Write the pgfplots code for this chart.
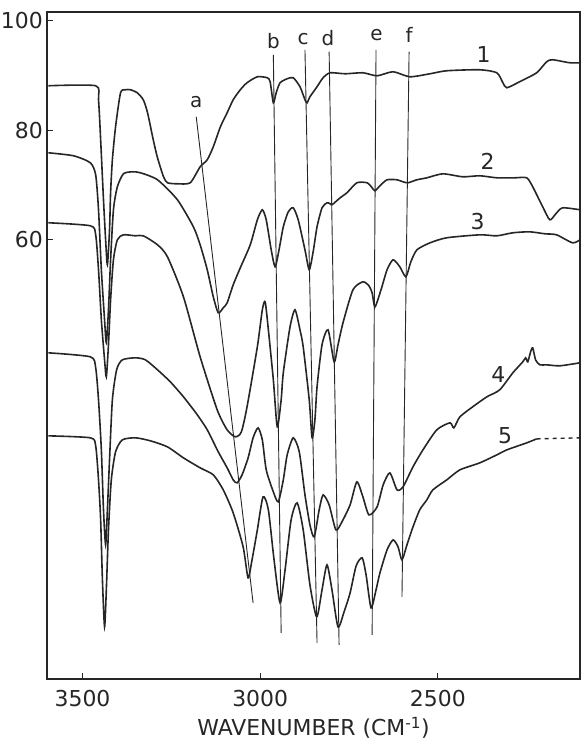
\documentclass[border=0pt]{standalone}
\usepackage{fontspec}
\setmainfont{DejaVu Sans}
\usepackage{pgfplots}
\pgfplotsset{compat=1.18}
\definecolor{ink}{gray}{0.15}
\begin{document}
\begin{tikzpicture}
\useasboundingbox (-47bp,-64bp) rectangle (535bp,679bp);
\begin{axis}[
  at={(0,0)}, anchor=south west,
  scale only axis, width=533bp, height=667bp,
  x dir=reverse, xmin=2100, xmax=3600, ymin=-20.2, ymax=101.6,
  xtick={2500,3000,3500}, ytick={60,80,100},
  tick pos=left,
  tick align=inside, major tick length=6bp,
  axis line style={ink, line width=1.4bp},
  every tick/.style={ink, line width=1.2bp},
  ticklabel style={font=\fontsize{22}{26}\selectfont, text=ink},
  xticklabel style={inner sep=0pt, anchor=north, yshift=-11bp},
  yticklabel style={inner sep=0pt, anchor=east, xshift=-4bp},
  /pgf/number format/assume math mode=true,
  /pgf/number format/set thousands separator={},
  xlabel={WAVENUMBER (CM\textsuperscript{-1})},
  xlabel style={font=\fontsize{22}{26}\selectfont, text=ink, at={(axis description cs:0.5,0)}, anchor=center, yshift=-49bp},
  clip=true,
  no markers,
]
% curve 1
\addplot[ink, line width=1.6bp, smooth, tension=0.4] coordinates {
(3596,88.13)(3463,88.13)(3455,85.57)(3449,78.27)(3441,67.31)(3435,60.0)(3430,55.44)(3424,61.83)(3421,68.58)(3416,74.61)(3407,80.64)(3393,86.85)(3379,87.4)(3365,87.4)(3346,86.85)(3329,85.57)(3317,83.2)(3301,78.27)(3289,74.98)(3272,71.51)(3261,70.41)(3233,70.23)(3197,70.41)(3169,73.33)(3149,74.61)(3132,76.99)(3112,80.64)(3093,83.2)(3076,85.57)(3056,87.4)(3037,88.68)(3008,89.77)(2980,89.59)(2972,88.86)(2963,85.02)(2955,86.85)(2944,88.68)(2924,89.41)(2907,89.59)(2888,87.95)(2874,85.57)(2868,85.02)(2860,86.12)(2840,87.95)(2823,89.59)(2803,90.5)(2761,90.32)(2711,90.5)(2671,89.95)(2626,90.69)(2579,89.77)(2522,90.32)(2475,90.87)(2382,91.05)(2334,90.5)(2317,88.68)(2306,87.76)(2270,88.86)(2222,90.5)(2194,92.51)(2177,92.88)(2129,92.33)(2100,92.33)
};
% curve 2
\addplot[ink, line width=1.6bp, smooth, tension=0.4] coordinates {
(3596,75.89)(3525,75.34)(3478,74.06)(3463,71.87)(3455,65.48)(3447,54.52)(3438,45.39)(3433,41.19)(3427,47.22)(3421,56.35)(3413,65.48)(3402,69.68)(3385,72.05)(3360,72.42)(3337,72.24)(3289,70.96)(3233,67.31)(3188,62.37)(3169,59.09)(3149,54.52)(3132,49.59)(3118,46.67)(3104,47.58)(3093,48.49)(3076,51.78)(3056,54.89)(3028,59.09)(3008,63.65)(2994,65.48)(2983,63.65)(2969,58.17)(2958,55.07)(2947,58.17)(2935,62.37)(2921,65.11)(2907,65.84)(2893,63.65)(2874,58.17)(2862,54.52)(2851,57.81)(2840,62.37)(2826,65.84)(2812,66.76)(2803,66.58)(2798,66.39)(2775,67.67)(2756,68.58)(2728,70.41)(2699,70.41)(2685,69.5)(2677,68.95)(2663,69.86)(2643,70.96)(2615,70.96)(2598,70.59)(2584,70.41)(2559,70.96)(2531,71.32)(2486,72.05)(2430,71.51)(2382,71.69)(2334,71.32)(2284,71.32)(2250,71.32)(2233,69.68)(2205,66.03)(2185,63.65)(2168,64.75)(2149,65.84)(2100,65.48)
};
% curve 3
\addplot[ink, line width=1.6bp, smooth, tension=0.4] coordinates {
(3596,63.11)(3478,62.56)(3463,60.91)(3455,54.52)(3447,45.39)(3438,38.08)(3433,34.98)(3427,40.82)(3421,49.04)(3413,56.35)(3402,60.0)(3385,60.91)(3351,60.73)(3329,60.73)(3289,59.09)(3261,56.9)(3216,49.59)(3169,38.63)(3121,28.95)(3093,25.3)(3070,24.02)(3053,24.93)(3037,29.5)(3008,40.46)(2994,47.22)(2986,48.67)(2977,43.56)(2963,34.43)(2952,25.85)(2941,30.78)(2935,35.71)(2916,44.11)(2902,47.22)(2888,43.56)(2879,40.46)(2862,30.78)(2854,23.84)(2846,27.12)(2840,33.15)(2826,40.82)(2809,43.56)(2792,37.72)(2781,40.82)(2767,44.84)(2739,50.87)(2711,52.33)(2694,51.6)(2685,50.32)(2677,47.76)(2660,50.87)(2643,54.52)(2626,56.35)(2607,55.07)(2590,53.24)(2576,55.98)(2559,58.17)(2522,59.45)(2475,60.37)(2382,60.91)(2334,60.73)(2289,61.28)(2242,61.46)(2199,61.1)(2166,60.91)(2121,59.45)(2100,60.0)
};
% curve 4
\addplot[ink, line width=1.6bp, smooth, tension=0.4] coordinates {
(3596,39.36)(3478,38.63)(3463,36.62)(3455,30.78)(3447,21.64)(3441,10.69)(3435,4.29)(3430,10.69)(3424,19.82)(3416,30.78)(3404,36.26)(3388,38.08)(3351,38.45)(3323,38.08)(3289,36.26)(3253,34.07)(3216,31.33)(3177,28.04)(3149,25.3)(3118,21.28)(3093,18.36)(3076,16.16)(3065,15.62)(3051,17.08)(3034,20.18)(3020,23.84)(3006,25.66)(2994,23.47)(2983,17.99)(2963,13.97)(2949,12.15)(2935,16.16)(2924,20.73)(2907,23.84)(2890,21.28)(2874,13.42)(2860,7.94)(2848,5.75)(2834,10.69)(2823,13.42)(2806,11.6)(2787,7.03)(2770,8.49)(2747,11.6)(2728,15.8)(2711,13.06)(2694,9.77)(2671,11.23)(2654,15.25)(2635,17.44)(2615,14.34)(2598,14.89)(2570,18.54)(2542,21.64)(2503,25.3)(2466,26.58)(2455,25.66)(2438,27.67)(2402,29.5)(2362,31.33)(2326,32.6)(2289,35.71)(2261,37.72)(2253,38.45)(2247,37.72)(2239,39.54)(2233,40.27)(2225,38.08)(2213,37.17)(2194,37.17)(2157,36.99)(2100,37.54)
};
% curve 5
\addplot[ink, line width=1.6bp, smooth, tension=0.4] coordinates {
(3596,24.2)(3478,23.84)(3463,22.37)(3455,16.16)(3449,8.86)(3444,-2.1)(3438,-10.69)(3433,-3.93)(3427,7.03)(3419,16.16)(3407,21.28)(3388,23.47)(3351,23.84)(3309,23.29)(3261,22.19)(3216,20.18)(3169,18.36)(3132,17.08)(3104,14.34)(3076,10.14)(3048,3.93)(3034,-1.74)(3023,1.55)(3008,7.03)(2992,13.06)(2977,10.69)(2961,1.55)(2944,-6.31)(2930,-0.27)(2913,8.86)(2896,11.96)(2879,7.03)(2860,-3.02)(2841,-8.86)(2826,-3.93)(2812,0.64)(2798,-3.93)(2781,-10.69)(2764,-7.95)(2747,-4.48)(2730,0.46)(2713,1.92)(2702,-1.19)(2688,-7.21)(2674,-3.93)(2663,-0.82)(2643,3.38)(2626,5.2)(2612,3.93)(2601,1.55)(2587,4.29)(2570,7.58)(2551,10.69)(2531,12.51)(2514,14.34)(2475,16.16)(2438,17.99)(2382,19.27)(2334,20.73)(2306,21.64)(2250,22.92)(2222,23.65)
};
\addplot[ink, line width=1.4bp, dash pattern=on 4bp off 4bp] coordinates {(2222,23.65)(2100,23.84)};
% band marker lines a-f
\addplot[ink, line width=0.9bp] coordinates {(3180,82.47)(3020,-6.31)};
\addplot[ink, line width=0.9bp] coordinates {(2963,93.79)(2941,-11.78)};
\addplot[ink, line width=0.9bp] coordinates {(2874,94.7)(2840,-13.61)};
\addplot[ink, line width=0.9bp] coordinates {(2806,94.34)(2778,-13.98)};
\addplot[ink, line width=0.9bp] coordinates {(2674,94.7)(2685,-12.15)};
\addplot[ink, line width=0.9bp] coordinates {(2581,94.34)(2601,-5.21)};
% labels
\begin{scope}[every node/.style={font=\fontsize{20}{23}\selectfont, text=ink, inner sep=0pt}]
\node at (axis cs:3180,85.11) {a};
\node at (axis cs:2963,96.26) {b};
\node at (axis cs:2879,96.7) {c};
\node at (axis cs:2809,96.8) {d};
\node at (axis cs:2673,97.35) {e};
\node at (axis cs:2581,97.35) {f};
\end{scope}
\begin{scope}[every node/.style={font=\fontsize{22}{26}\selectfont, text=ink, inner sep=0pt}]
\node at (axis cs:2371,93.8) {1};
\node at (axis cs:2360,74.33) {2};
\node at (axis cs:2388,63.38) {3};
\node at (axis cs:2330,35.43) {4};
\node at (axis cs:2311,24.29) {5};
\end{scope}
\end{axis}
\end{tikzpicture}
\end{document}
